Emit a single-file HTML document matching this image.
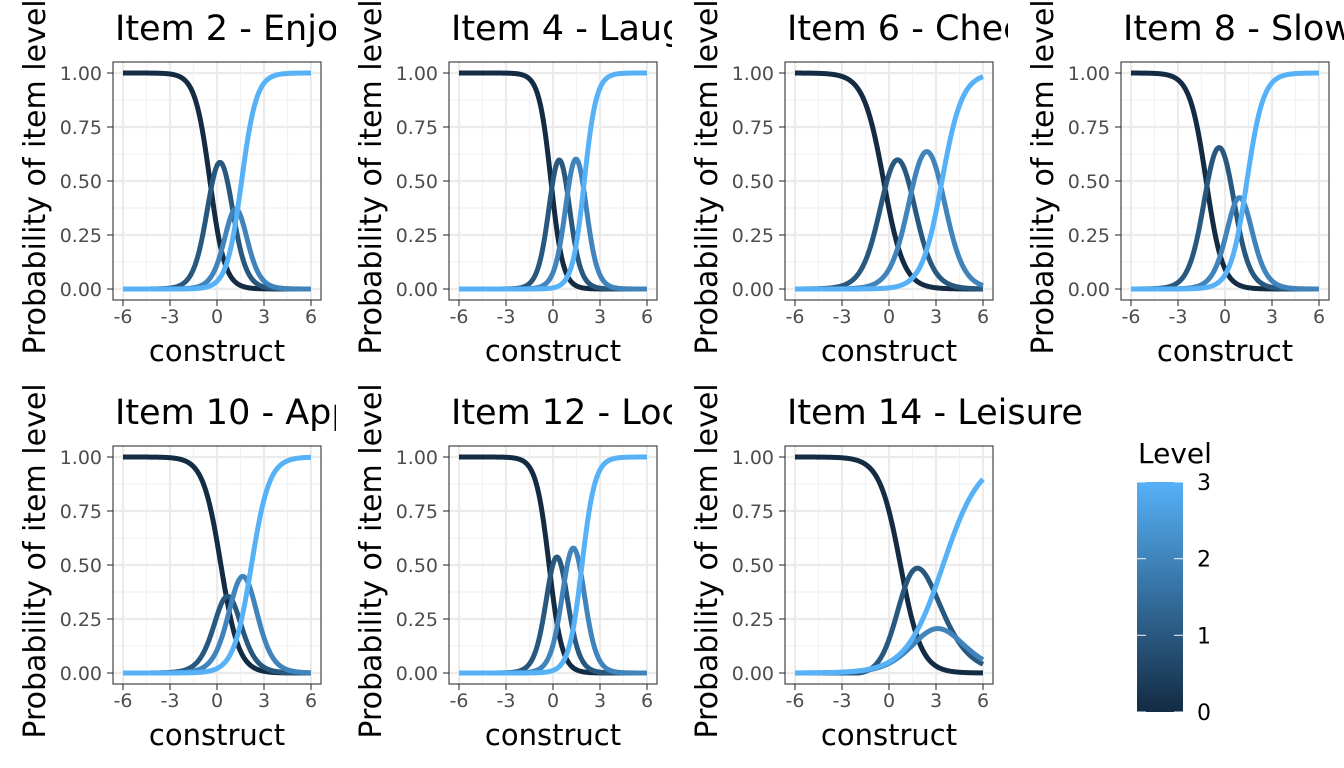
<!DOCTYPE html>
<html><head><meta charset="utf-8">
<style>
html,body{margin:0;padding:0;background:#fff;}
svg{display:block;font-family:"DejaVu Sans","Liberation Sans",sans-serif;}
</style></head>
<body>
<svg id="chart" width="1344" height="768" viewBox="0 0 1344 768">
<defs>
<linearGradient id="lvlgrad" x1="0" y1="1" x2="0" y2="0">
<stop offset="0" stop-color="#132B43"/><stop offset="1" stop-color="#56B1F7"/>
</linearGradient>
</defs>
<g id="cells"></g>
<g>
<text x="1138" y="463" font-size="28" fill="#000">Level</text>
<rect x="1137" y="482" width="46" height="230" fill="url(#lvlgrad)"/>
<g id="legendticks"></g>
</g>
</svg>
<script>
const itemTitles = ["Item 2 - Enjoyment","Item 4 - Laughter","Item 6 - Cheerful","Item 8 - Slowed down","Item 10 - Appearance","Item 12 - Looking forward","Item 14 - Leisure"];
const slopes = [[2.1,2.1,2.1],[2.6,2.6,2.6],[1.55,1.55,1.55],[1.9,1.9,1.9],[1.75,1.75,1.75],[2.4,2.4,2.4],[1.5,0.9,0.85]];
const thresholds = [[-0.45,0.83,1.57],[-0.13,0.93,2.0],[-0.34,1.44,3.38],[-1.2,0.45,1.4],[0.25,1.1,2.2],[-0.25,0.75,1.85],[0.73,2.5,3.45]];
const levels = [0,1,2,3];
const levelColors = ["#132B43","#29587F","#4084BB","#56B1F7"];
const xTicks = [-6,-3,0,3,6];
const yTicks = [0,0.25,0.5,0.75,1];
const yTickLabels = ["0.00","0.25","0.50","0.75","1.00"];

const NS="http://www.w3.org/2000/svg";
function mk(tag,attrs,parent){const e=document.createElementNS(NS,tag);for(const k in attrs)e.setAttribute(k,attrs[k]);if(parent)parent.appendChild(e);return e;}
const sx=v=>123+(v+6)/12*188;
const sy=v=>289-v*216;
const sig=t=>1/(1+Math.exp(-t));
const cells=document.getElementById('cells');
const defs=document.querySelector('defs');

itemTitles.forEach((title,i)=>{
  const c=i%4, r=Math.floor(i/4);
  const ox=336*c, oy=384*r;
  const cp=mk('clipPath',{id:'cp'+i},defs);
  mk('rect',{x:0,y:0,width:(i===itemTitles.length-1?672:336),height:384},cp);
  const g=mk('g',{transform:`translate(${ox},${oy})`,'clip-path':`url(#cp${i})`},cells);
  
  
  const bg=mk('rect',{x:113,y:62,width:208,height:238,fill:'#fff'},g);
  
  
  for(let k=0;k<xTicks.length-1;k++){const m=(xTicks[k]+xTicks[k+1])/2;mk('line',{x1:sx(m),x2:sx(m),y1:62,y2:300,stroke:'#f2f2f2','stroke-width':1.2},g);}
  for(let k=0;k<yTicks.length-1;k++){const m=(yTicks[k]+yTicks[k+1])/2;mk('line',{x1:113,x2:321,y1:sy(m),y2:sy(m),stroke:'#f2f2f2','stroke-width':1.2},g);}
  xTicks.forEach(v=>mk('line',{x1:sx(v),x2:sx(v),y1:62,y2:300,stroke:'#ebebeb','stroke-width':2.2},g));
  yTicks.forEach(v=>mk('line',{x1:113,x2:321,y1:sy(v),y2:sy(v),stroke:'#ebebeb','stroke-width':2.2},g));
  const a=slopes[i], b=thresholds[i];
  levels.forEach(lv=>{
    let d='';
    for(let s=0;s<=240;s++){
      const x=-6+12*s/240;
      const ps=[1,sig(a[0]*(x-b[0])),sig(a[1]*(x-b[1])),sig(a[2]*(x-b[2])),0];
      const p=Math.max(0,ps[lv]-ps[lv+1]);
      d+=(s?'L':'M')+sx(x).toFixed(2)+' '+sy(p).toFixed(2);
    }
    const path=mk('path',{d:d,fill:'none',stroke:levelColors[lv],'stroke-width':5,'stroke-linejoin':'round'},g);
    
    
  });
  const border=mk('rect',{x:113,y:62,width:208,height:238,fill:'none',stroke:'#333','stroke-width':1.1},g);
  
  
  yTicks.forEach((v,k)=>{
    mk('line',{x1:107,x2:113,y1:sy(v),y2:sy(v),stroke:'#333','stroke-width':1.1},g);
    const t=mk('text',{x:102,y:sy(v)+7,'text-anchor':'end','font-size':19,fill:'#4d4d4d'},g);
    t.textContent=yTickLabels[k];
    
    
  });
  xTicks.forEach(v=>{
    mk('line',{x1:sx(v),x2:sx(v),y1:300,y2:306,stroke:'#333','stroke-width':1.1},g);
    const t=mk('text',{x:sx(v),y:323,'text-anchor':'middle','font-size':19,fill:'#4d4d4d'},g);
    t.textContent=String(v);
    
    
  });
  const xt=mk('text',{x:217,y:361,'text-anchor':'middle','font-size':29,fill:'#000'},g);
  xt.textContent='construct';
  
  
  const yt=mk('text',{x:0,y:0,'text-anchor':'middle','font-size':30,fill:'#000',transform:'translate(45,177) rotate(-90)'},g);
  yt.textContent='Probability of item level';
  
  
  const tt=mk('text',{x:115,y:40,'font-size':35,fill:'#000'},g);
  tt.textContent=title;
  
  
});

const lt=document.getElementById('legendticks');
levels.forEach(lv=>{
  const y=712-lv*(230/3);
  mk('line',{x1:1137,x2:1146,y1:y,y2:y,stroke:'#fff','stroke-width':1.2,opacity:0.8},lt);
  mk('line',{x1:1174,x2:1183,y1:y,y2:y,stroke:'#fff','stroke-width':1.2,opacity:0.8},lt);
  const t=mk('text',{x:1197,y:y+8,'font-size':22,fill:'#000'},lt);
  t.textContent=String(lv);
  
  
});
</script>
</body></html>
